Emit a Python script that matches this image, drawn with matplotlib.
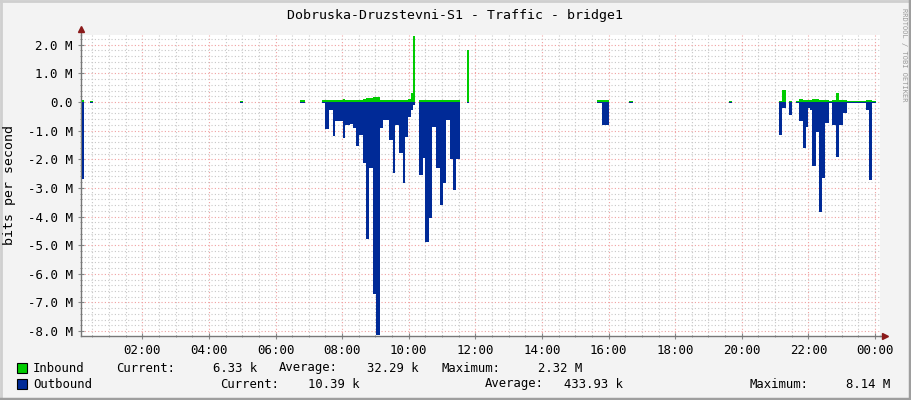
import numpy as np
import matplotlib.pyplot as plt
from matplotlib.lines import Line2D
from matplotlib.ticker import MultipleLocator

plt.rcParams['font.family'] = ['DejaVu Sans Mono']

# step data: value holds from time_h[i] until time_h[i+1]; nan = no data
time_h = [0.18, 0.25, 0.42, 0.51, 4.92, 5.01, 6.75, 6.90,
          7.41, 7.50, 7.62, 7.73, 7.80, 8.02, 8.10, 8.24, 8.32, 8.42, 8.51,
          8.62, 8.72, 8.82, 8.92, 9.01, 9.13, 9.24, 9.42, 9.54, 9.60, 9.72,
          9.84, 9.90, 9.99, 10.08, 10.14, 10.20,
          10.32, 10.42, 10.50, 10.62, 10.71, 10.83, 10.93, 11.02, 11.12,
          11.23, 11.32, 11.43, 11.53, 11.75, 11.82,
          15.66, 15.81, 16.02, 16.62, 16.74, 19.62, 19.71,
          21.12, 21.21, 21.33, 21.42, 21.51, 21.63, 21.72, 21.84, 21.93,
          21.99, 22.06, 22.12, 22.23, 22.32, 22.41, 22.50, 22.62, 22.71,
          22.83, 22.92, 23.04, 23.16, 23.73, 23.82, 23.91, 24.03]
nan = np.nan
inbound_m = [0.07, nan, 0.05, nan, 0.02, nan, 0.06, nan,
             0.06, 0.06, 0.06, 0.06, 0.06, 0.09, 0.06, 0.06, 0.06, 0.06, 0.06,
             0.09, 0.14, 0.14, 0.17, 0.17, 0.06, 0.06, 0.06, 0.06, 0.06, 0.06,
             0.06, 0.06, 0.09, 0.30, 2.32, nan,
             0.06, 0.06, 0.06, 0.06, 0.06, 0.06, 0.06, 0.06, 0.06,
             0.06, 0.06, 0.06, nan, 1.81, nan,
             0.06, 0.06, nan, 0.05, nan, 0.05, nan,
             0.05, 0.42, nan, 0.05, nan, 0.03, 0.10, 0.06, 0.06,
             0.06, 0.06, 0.10, 0.10, 0.08, 0.06, 0.06, 0.02, 0.07,
             0.30, 0.07, 0.06, 0.02, 0.06, 0.06, 0.05, nan]
outbound_m = [-2.70, nan, -0.04, nan, -0.05, nan, -0.03, nan,
              -0.05, -0.95, -0.28, -1.17, -0.65, -1.26, -0.80, -0.78, -0.90, -1.52, -1.15,
              -2.13, -4.80, -2.30, -6.70, -8.14, -0.90, -0.63, -1.32, -2.47, -0.80, -1.78,
              -2.83, -1.22, -0.52, -0.28, -0.10, nan,
              -2.55, -1.95, -4.90, -4.05, -0.86, -2.30, -3.60, -2.83, -0.63,
              -2.00, -3.07, -2.00, nan, -0.05, nan,
              -0.05, -0.80, nan, -0.02, nan, -0.02, nan,
              -1.15, -0.20, nan, -0.45, nan, -0.04, -0.68, -1.60, -0.86,
              -0.20, -0.28, -2.23, -1.03, -3.85, -2.65, -0.72, -0.04, -0.80,
              -1.91, -0.80, -0.40, -0.03, -0.28, -2.72, -0.03, nan]

hour_ticks = [2, 4, 6, 8, 10, 12, 14, 16, 18, 20, 22, 24]
hour_labels = ['02:00', '04:00', '06:00', '08:00', '10:00', '12:00',
               '14:00', '16:00', '18:00', '20:00', '22:00', '00:00']
y_ticks = [2, 1, 0, -1, -2, -3, -4, -5, -6, -7, -8]
y_labels = ['2.0 M', '1.0 M', '0.0', '-1.0 M', '-2.0 M', '-3.0 M', '-4.0 M',
            '-5.0 M', '-6.0 M', '-7.0 M', '-8.0 M']

legend_rows = [
    ('Inbound', '#00CC00', [(116, 'Current:'), (213, '6.33 k'), (279, 'Average:'),
                            (367, '32.29 k'), (441, 'Maximum:'), (538, '2.32 M')]),
    ('Outbound', '#002A97', [(220, 'Current:'), (308, '10.39 k'), (485, 'Average:'),
                             (564, '433.93 k'), (750, 'Maximum:'), (846, '8.14 M')]),
]


def step_xy(t, v):
    xs, ys = [], []
    for i in range(len(t) - 1):
        xs += [t[i], t[i + 1]]
        ys += [v[i], v[i]]
    return np.array(xs), np.array(ys)


W, H = 911, 400
fig = plt.figure(figsize=(W / 100, H / 100), dpi=100, facecolor='#F3F3F3')
ax = fig.add_axes([81 / W, 64 / H, 799 / W, 301 / H])
ax.set_facecolor('white')

xi, yi = step_xy(time_h, inbound_m)
xo, yo = step_xy(time_h, outbound_m)
ax.fill_between(xi, 0, yi, color='#00CC00', linewidth=0, zorder=3)
ax.fill_between(xo, 0, yo, color='#002A97', linewidth=0, zorder=3)

ax.set_xlim(0.16, 24.15)
ax.set_ylim(-8.17, 2.34)

ax.set_xticks(hour_ticks)
ax.set_xticklabels(hour_labels, fontsize=9)
ax.xaxis.set_minor_locator(MultipleLocator(0.5))
ax.set_yticks(y_ticks)
ax.set_yticklabels(y_labels, fontsize=9)
ax.yaxis.set_minor_locator(MultipleLocator(0.2))

ax.grid(which='minor', color='#C8C8C8', linestyle=(0, (1, 2)), linewidth=0.8, zorder=1)
ax.grid(which='major', color='#F0A0A0', linestyle=(0, (1, 2)), linewidth=0.8, zorder=2)
ax.set_axisbelow(True)

ax.tick_params(which='both', direction='inout', color='#888888', labelcolor='black')
ax.tick_params(which='major', length=4, pad=4)
ax.tick_params(which='minor', length=2)

for s in ['top', 'right']:
    ax.spines[s].set_visible(False)
for s in ['left', 'bottom']:
    ax.spines[s].set_color('#777777')
    ax.spines[s].set_linewidth(1)

# axis arrows
ax.plot([0, 0], [1, 1 + 5 / 301], color='#777777', lw=1, transform=ax.transAxes, clip_on=False)
ax.plot([1, 1 + 4 / 799], [0, 0], color='#777777', lw=1, transform=ax.transAxes, clip_on=False)
ax.plot([0], [1 + 6 / 301], marker='^', markersize=4, color='#8B1A1A',
        transform=ax.transAxes, clip_on=False)
ax.plot([1 + 5 / 799], [0], marker='>', markersize=4, color='#8B1A1A',
        transform=ax.transAxes, clip_on=False)

fig.text(455 / W, 1 - 15 / H, 'Dobruska-Druzstevni-S1 - Traffic - bridge1',
         ha='center', va='center', fontsize=9.5)
fig.text(10 / W, 1 - 185 / H, 'bits per second', rotation=90,
         ha='center', va='center', fontsize=9.5)
fig.text(904 / W, 1 - 8 / H, 'RRDTOOL / TOBI OETIKER', rotation=270,
         ha='center', va='top', fontsize=5, color='#999999')

for row, (name, color, items) in enumerate(legend_rows):
    yc = 368 + row * 16
    fig.patches.append(plt.Rectangle((17 / W, 1 - (yc + 5) / H), 10 / W, 10 / H,
                                     facecolor=color, edgecolor='black', linewidth=0.8,
                                     transform=fig.transFigure, figure=fig))
    fig.text(33 / W, 1 - yc / H, name, ha='left', va='center', fontsize=8.8)
    for x, txt in items:
        fig.text(x / W, 1 - yc / H, txt, ha='left', va='center', fontsize=8.8)

# frame shading
fig.add_artist(Line2D([0, 1], [1 - 1 / H, 1 - 1 / H], color='#CFCFCF', lw=2))
fig.add_artist(Line2D([1 / W, 1 / W], [0, 1], color='#CFCFCF', lw=2))
fig.add_artist(Line2D([0, 1], [1 / H, 1 / H], color='#9E9E9E', lw=2.5))
fig.add_artist(Line2D([1 - 1 / W, 1 - 1 / W], [0, 1], color='#9E9E9E', lw=2.5))

fig.savefig('out.png', dpi=100, facecolor=fig.get_facecolor())
